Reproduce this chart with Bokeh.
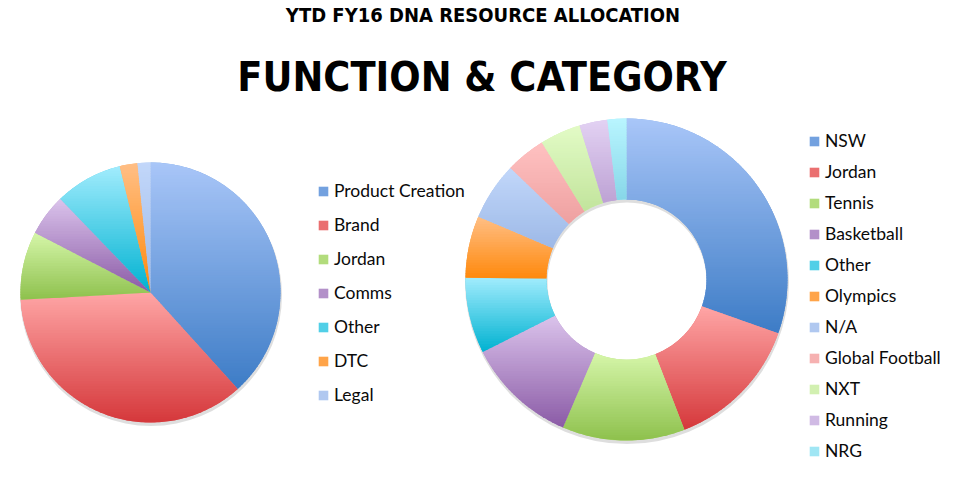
import numpy as np
from bokeh.plotting import figure
from bokeh.models import Legend, LegendItem, Label, Range1d, ColumnDataSource
from bokeh.embed import file_html
from bokeh.resources import INLINE

# ---------------- data ----------------
subtitle = "YTD FY16 DNA RESOURCE ALLOCATION"
main_title = "FUNCTION & CATEGORY"

func_labels = ["Product Creation", "Brand", "Jordan", "Comms", "Other", "DTC", "Legal"]
func_values = [38.3, 35.8, 8.5, 5.2, 8.4, 2.2, 1.6]

cat_labels = ["NSW", "Jordan", "Tennis", "Basketball", "Other", "Olympics", "N/A",
              "Global Football", "NXT", "Running", "NRG"]
cat_values = [30.4, 13.7, 12.3, 11.1, 7.6, 6.2, 5.8, 4.0, 4.1, 2.8, 1.9]

# gradient colours (top -> bottom) per series position
top_colors = ["#a9c6f8", "#ffa6a6", "#d6f6aa", "#dbc4ec", "#a2ecfd", "#ffbf86",
              "#c2d7fa", "#ffc2c2", "#e2fbc6", "#e3d2f3", "#b9f5ff"]
bot_colors = ["#3d7cc6", "#d5383b", "#8ec14d", "#8b5ba6", "#00b2d1", "#ff890c",
              "#9db9e7", "#eea0a0", "#c2e49c", "#bda2d4", "#87d7e8"]

W, H = 953, 479

p = figure(width=W, height=H, x_range=Range1d(0, W), y_range=Range1d(0, H),
           output_backend="svg", toolbar_location=None, min_border=0,
           x_axis_location=None, y_axis_location=None)
p.grid.visible = False
p.outline_line_color = None
p.background_fill_color = "white"

COND = "'DejaVu Sans Condensed', 'DejaVu Sans'"


def hex2rgb(h):
    return np.array([int(h[i:i + 2], 16) for i in (1, 3, 5)], float)


def mix(c0, c1, t):
    c = hex2rgb(c0) * (1 - t) + hex2rgb(c1) * t
    return "#%02x%02x%02x" % tuple(int(round(v)) for v in c)


def clip_half(pts, keep, inter):
    out = []
    n = len(pts)
    for i in range(n):
        cur = pts[i]
        prev = pts[i - 1]
        if keep(cur):
            if not keep(prev):
                out.append(inter(prev, cur))
            out.append(cur)
        elif keep(prev):
            out.append(inter(prev, cur))
    return out


def ix(y0):
    def f(a, b):
        t = (y0 - a[1]) / (b[1] - a[1])
        return (a[0] + t * (b[0] - a[0]), y0)
    return f


def clip_band(poly, ylo, yhi):
    pts = clip_half(poly, lambda q: q[1] >= ylo, ix(ylo))
    if pts:
        pts = clip_half(pts, lambda q: q[1] <= yhi, ix(yhi))
    return pts


def slice_poly(cx, cy, r_in, r_out, a0, a1):
    n = max(6, int(abs(a1 - a0) / (np.pi / 180)))
    th = np.linspace(a0, a1, n + 1)
    outer = [(cx + r_out * np.sin(t), cy + r_out * np.cos(t)) for t in th]
    if r_in > 0:
        inner = [(cx + r_in * np.sin(t), cy + r_in * np.cos(t)) for t in th[::-1]]
    else:
        inner = [(cx, cy)]
    return outer + inner


def draw_pie(values, labels, cx, cy, r_in, r_out, legend_loc, label_h, spacing):
    vals = np.array(values, float)
    frac = vals / vals.sum()
    ends = np.cumsum(frac) * 2 * np.pi
    starts = ends - frac * 2 * np.pi
    n = len(vals)
    mids = [mix(top_colors[i], bot_colors[i], 0.5) for i in range(n)]

    # soft shadow
    p.annulus(x=cx + 0.5, y=cy - 2.5, inner_radius=max(r_in - 0.5, 0.01), outer_radius=r_out + 1,
              fill_color="#000000", fill_alpha=0.13, line_color=None)

    src = ColumnDataSource(dict(label=labels, value=list(values),
                                start=list(np.pi / 2 - starts), end=list(np.pi / 2 - ends),
                                color=mids))
    if r_in > 0:
        r = p.annular_wedge(x=cx, y=cy, inner_radius=r_in, outer_radius=r_out,
                            start_angle="start", end_angle="end", direction="clock",
                            fill_color="color", line_color=None, source=src)
    else:
        r = p.wedge(x=cx, y=cy, radius=r_out, start_angle="start", end_angle="end",
                    direction="clock", fill_color="color", line_color=None, source=src)

    # vertical gradient overlay per slice
    xs, ys, cols = [], [], []
    for i in range(n):
        poly = slice_poly(cx, cy, r_in, r_out, starts[i], ends[i])
        pys = [q[1] for q in poly]
        ymin, ymax = min(pys), max(pys)
        nb = max(3, int((ymax - ymin) / 2.5))
        h = (ymax - ymin) / nb
        for k in range(nb):
            yhi = ymax - k * h + 0.4
            ylo = ymax - (k + 1) * h - 0.4
            pts = clip_band(poly, ylo, yhi)
            if len(pts) < 3:
                continue
            xs.append([q[0] for q in pts])
            ys.append([q[1] for q in pts])
            cols.append(mix(top_colors[i], bot_colors[i], (k + 0.5) / nb))
    p.patches(xs="xs", ys="ys", fill_color="color", line_color=None,
              source=ColumnDataSource(dict(xs=xs, ys=ys, color=cols)))

    items = [LegendItem(label=labels[i], renderers=[r], index=i) for i in range(n)]
    leg = Legend(items=items, location=legend_loc, orientation="vertical",
                 glyph_width=12, glyph_height=12, label_standoff=5,
                 label_height=label_h, spacing=spacing, padding=0, margin=0,
                 border_line_color=None, background_fill_alpha=0,
                 label_text_font="Lato", label_text_font_size="17.5px",
                 label_text_color="#0a0a0a")
    p.add_layout(leg, "center")


draw_pie(func_values, func_labels, 150, 187, 0, 130, (317, 74), 21, 13)
draw_pie(cat_values, cat_labels, 626, 200, 80, 161, (808, 18), 21, 10)

p.add_layout(Label(x=482.5, y=465, text=subtitle, text_align="center",
                   text_baseline="alphabetic", text_font=COND,
                   text_font_style="bold", text_font_size="20px", text_color="#000000"))
p.add_layout(Label(x=481.5, y=403, text=main_title, text_align="center",
                   text_baseline="alphabetic", text_font=COND,
                   text_font_style="bold", text_font_size="41px", text_color="#000000"))

open("out.html", "w").write(file_html(p, INLINE))
